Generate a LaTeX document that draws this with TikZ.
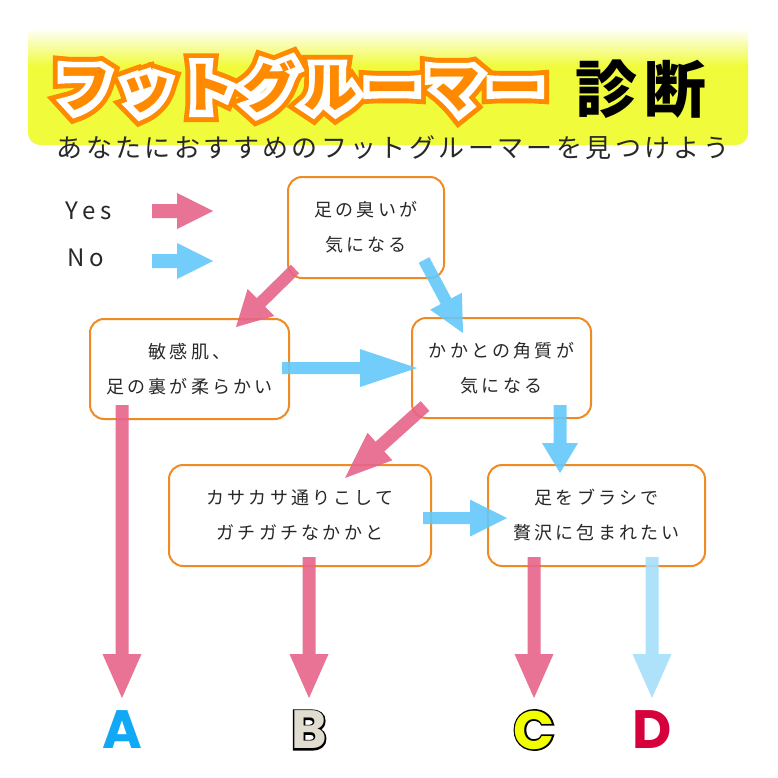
\documentclass[tikz,border=0pt]{standalone}
\usepackage{fontspec}
\usetikzlibrary{calc}
\newfontfamily\jpbox{Noto Sans CJK JP}[LetterSpace=18]
\newfontfamily\jpsub{Noto Sans CJK JP}[LetterSpace=13]
\newfontfamily\jplat{Noto Sans CJK JP}[LetterSpace=22]
\newfontfamily\ttlout{Noto Sans CJK JP}[LetterSpace=14,BoldFeatures={FakeBold=42}]
\newfontfamily\ttlmid{Noto Sans CJK JP}[LetterSpace=14,BoldFeatures={FakeBold=24}]
\newfontfamily\ttlin{Noto Sans CJK JP}[LetterSpace=14]
\newfontfamily\ttlkan{Noto Sans CJK JP}[LetterSpace=10]
\newfontfamily\letout{Poppins}[BoldFeatures={FakeBold=6}]
\newfontfamily\letin{Poppins}
\definecolor{bannery}{RGB}{240,251,60}
\definecolor{ttlorange}{RGB}{255,138,0}
\definecolor{boxorange}{RGB}{240,138,36}
\definecolor{yespink}{RGB}{230,100,138}
\definecolor{noblue}{RGB}{100,200,250}
\definecolor{noblueL}{RGB}{166,222,250}
\definecolor{txtgray}{RGB}{40,40,40}
\definecolor{letA}{RGB}{17,168,245}
\definecolor{letB}{RGB}{224,221,208}
\definecolor{letC}{RGB}{242,255,0}
\definecolor{letD}{RGB}{214,0,60}
\newcommand\fatarrow[6]{%
  \coordinate (fa-base) at ($(#3)!#4!(#2)$);
  \fill[#1] ($(#2)!#6!90:(#3)$) -- ($(fa-base)!#6!90:(#3)$) -- ($(fa-base)!#5!90:(#3)$) -- (#3)
    -- ($(fa-base)!#5!-90:(#3)$) -- ($(fa-base)!#6!-90:(#3)$) -- ($(#2)!#6!-90:(#3)$) -- cycle;
}
\tikzset{
  qbox/.style={draw=boxorange, line width=2pt, rounded corners=14pt, fill=white,
    align=center, text=txtgray, inner sep=0pt,
    font=\fontsize{18}{35}\selectfont\jpbox},
  yesarr/.style={fill=yespink, fill opacity=0.9},
  noarr/.style={fill=noblue, fill opacity=0.9},
  noarrL/.style={fill=noblueL, fill opacity=0.9},
  legend/.style={text=txtgray, font=\fontsize{24}{28}\selectfont\jplat, inner sep=0pt},
}
\begin{document}
\begin{tikzpicture}[x=1pt,y=-1pt]
\useasboundingbox (0,0) rectangle (778,778);
\fill[white] (0,0) rectangle (778,778);
% banner
\fill[bannery, rounded corners=12pt] (28,50) rectangle (748,145);
\shade[top color=white, bottom color=bannery] (28,28) rectangle (748,66);
% title
\node[text=ttlorange, font=\fontsize{54}{60}\selectfont\ttlout\bfseries] at (300,87) {フットグルーマー};
\node[text=white, font=\fontsize{54}{60}\selectfont\ttlmid\bfseries] at (300,87) {フットグルーマー};
\node (title) [text=ttlorange, font=\fontsize{54}{60}\selectfont\ttlin\bfseries] at (300,87) {フットグルーマー};
\node (shindan) [text=black, font=\fontsize{62}{66}\selectfont\ttlkan\bfseries] at (641,89) {診断};
\node (sub) [text=txtgray, font=\fontsize{26}{30}\selectfont\jpsub] at (393,148) {あなたにおすすめのフットグルーマーを見つけよう};
% legend
\node (yes) [legend, anchor=west] at (65,211) {Yes};
\node (no) [legend, anchor=west] at (67,258) {No};
\coordinate (yes-s) at (152,211); \coordinate (yes-e) at (213,211);
\coordinate (no-s) at (152,261); \coordinate (no-e) at (213,261);
\fatarrow{yesarr}{yes-s}{yes-e}{36pt}{18pt}{7pt}
\fatarrow{noarr}{no-s}{no-e}{36pt}{18pt}{7pt}
% boxes
\node (b1) [qbox, minimum width=156pt, minimum height=101pt] at (366,227.5) {足の臭いが\\気になる};
\node (b2) [qbox, minimum width=199pt, minimum height=100pt] at (189.5,369) {敏感肌、\\足の裏が柔らかい};
\node (b3) [qbox, minimum width=179pt, minimum height=100pt] at (501.5,368) {かかとの角質が\\気になる};
\node (b4) [qbox, minimum width=262pt, minimum height=101pt] at (300,515.5) {カサカサ通りこして\\ガチガチなかかと};
\node (b5) [qbox, minimum width=217pt, minimum height=101pt] at (596.5,515.5) {足をブラシで\\贅沢に包まれたい};
% results
\node[text=black, font=\fontsize{54}{60}\selectfont\letout\bfseries] at (309,730) {B};
\node[text=black, font=\fontsize{54}{60}\selectfont\letout\bfseries] at (534,730) {C};
\node (rA) [text=letA, font=\fontsize{54}{60}\selectfont\letin\bfseries] at (122,730) {A};
\node (rB) [text=letB, font=\fontsize{54}{60}\selectfont\letin\bfseries] at (309,730) {B};
\node (rC) [text=letC, font=\fontsize{54}{60}\selectfont\letin\bfseries] at (534,730) {C};
\node (rD) [text=letD, font=\fontsize{54}{60}\selectfont\letin\bfseries] at (652,730) {D};
% connectors
\coordinate (a1s) at (295,269); \coordinate (a1e) at (236,327);
\coordinate (a2s) at (424,260); \coordinate (a2e) at (463,333);
\coordinate (a3s) at (282,368); \coordinate (a3e) at (417,368);
\coordinate (a4s) at (425,406); \coordinate (a4e) at (345,478);
\coordinate (a5s) at (560,405); \coordinate (a5e) at (560,473);
\coordinate (a6s) at (423,518); \coordinate (a6e) at (507,518);
\coordinate (aAs) at (122,405); \coordinate (aAe) at (122,698);
\coordinate (aBs) at (309,557); \coordinate (aBe) at (309,698);
\coordinate (aCs) at (534,557); \coordinate (aCe) at (534,698);
\coordinate (aDs) at (652,557); \coordinate (aDe) at (652,698);
\fatarrow{yesarr}{a1s}{a1e}{35pt}{19pt}{6pt}
\fatarrow{noarr}{a2s}{a2e}{36pt}{18pt}{6pt}
\fatarrow{noarr}{a3s}{a3e}{57pt}{19pt}{6pt}
\fatarrow{yesarr}{a4s}{a4e}{47pt}{18.5pt}{6.5pt}
\fatarrow{noarr}{a5s}{a5e}{30pt}{18pt}{6.5pt}
\fatarrow{noarr}{a6s}{a6e}{37pt}{18.5pt}{6pt}
\fatarrow{yesarr}{aAs}{aAe}{44pt}{19.5pt}{6.5pt}
\fatarrow{yesarr}{aBs}{aBe}{44pt}{19.5pt}{6.5pt}
\fatarrow{yesarr}{aCs}{aCe}{44pt}{19.5pt}{6.5pt}
\fatarrow{noarrL}{aDs}{aDe}{44pt}{19.5pt}{6.5pt}
\end{tikzpicture}
\end{document}
